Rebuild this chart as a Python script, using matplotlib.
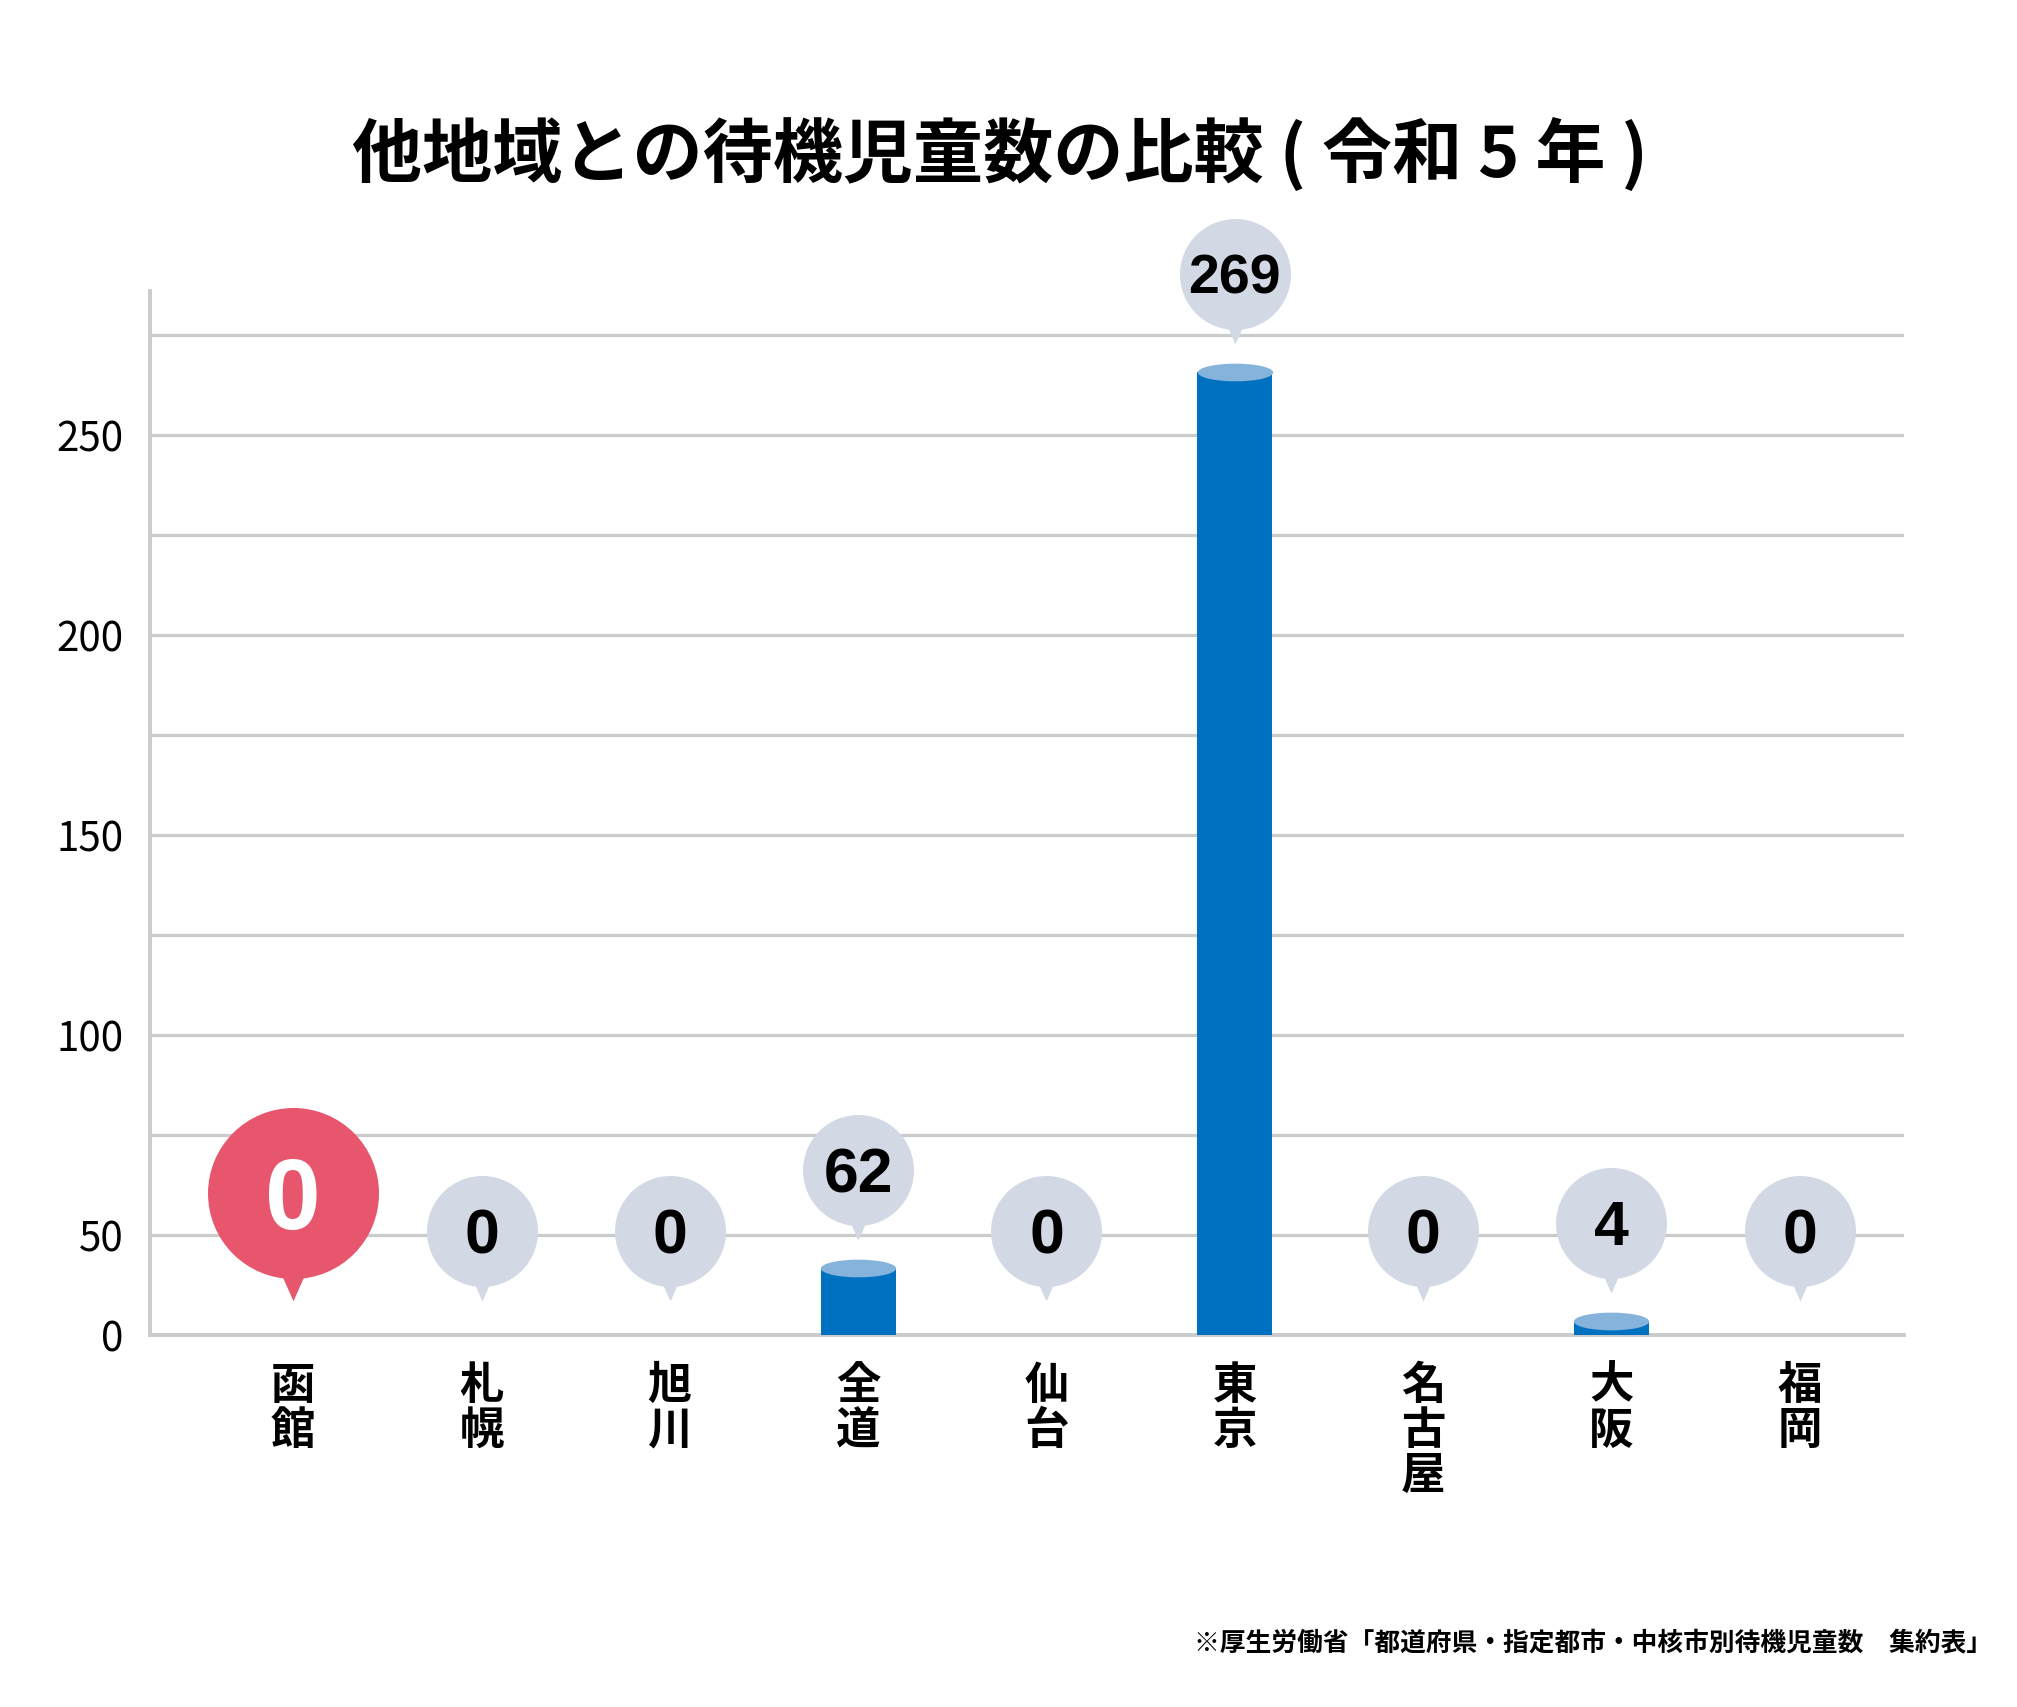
import numpy as np
import matplotlib
matplotlib.use("Agg")
import matplotlib.pyplot as plt
from matplotlib.path import Path
from matplotlib.transforms import ScaledTranslation

plt.rcParams['font.family'] = ['Noto Sans CJK JP', 'DejaVu Sans']

# ---------------- data ----------------
categories = ["函館", "札幌", "旭川", "全道", "仙台", "東京", "名古屋", "大阪", "福岡"]
waiting_children = [0, 0, 0, 62, 0, 269, 0, 4, 0]
highlight = "函館"
title = "他地域との待機児童数の比較 ( 令和 5 年 )"
source_note = "※厚生労働省「都道府県・指定都市・中核市別待機児童数　集約表」"
tick_labels = ["0", "50", "100", "150", "200", "250"]
tick_levels = [0, 1, 3, 5, 7, 9]          # grid rows where the labels sit
# the infographic's own (non-linear) value scale: value -> grid row
scale_values = [0, 4, 62, 269, 320]
scale_levels = [0, 0.14, 0.666, 9.63, 11.87]

# ---------------- style ----------------
DPI = 100
W, H = 2017, 1707
BAR_COLOR = "#0070c0"
CAP_COLOR = "#86b3dc"
BUBBLE_COLOR = "#d2d9e5"
HILITE_COLOR = "#e8566d"
GRID_COLOR = "#cbcbcb"

fig = plt.figure(figsize=(W / DPI, H / DPI), dpi=DPI)
ax_l, ax_r, ax_b, ax_t = 150, 1904, 1335, 291
ax = fig.add_axes([ax_l / W, (H - ax_b) / H, (ax_r - ax_l) / W, (ax_b - ax_t) / H])


def fwd(v):
    return np.interp(v, scale_values, scale_levels)


def inv(l):
    return np.interp(l, scale_levels, scale_values)


ax.set_yscale("function", functions=(fwd, inv))
x = np.arange(len(categories))
ax.set_xlim(-0.761, 8.554)
ax.set_ylim(0, inv(10.44))

# grid lines
for lvl in range(1, 11):
    ax.axhline(inv(lvl), color=GRID_COLOR, lw=2.3, zorder=0)

for s in ["top", "right"]:
    ax.spines[s].set_visible(False)
for s in ["left", "bottom"]:
    ax.spines[s].set_color(GRID_COLOR)
    ax.spines[s].set_linewidth(2.8)
    ax.spines[s].set_zorder(1)

ax.set_yticks([inv(l) for l in tick_levels])
ax.set_yticklabels(tick_labels, fontsize=29)
ax.tick_params(axis="y", length=0, pad=19)
ax.set_xticks([])
ax.yaxis.set_minor_locator(matplotlib.ticker.NullLocator())

# bars
bar_w = 0.40
ax.bar(x, waiting_children, width=bar_w, color=BAR_COLOR, zorder=2)

# cylinder caps (ellipse markers)
px_per_x = (ax_r - ax_l) / (8.554 + 0.761)
cap_w_pt = bar_w * px_per_x * 72 / DPI
ell = Path.unit_circle()
ell = Path(ell.vertices * np.array([1.0, 0.235]), ell.codes)
for xi, v in zip(x, waiting_children):
    if v > 0:
        ax.plot(xi, v, marker=ell, ms=cap_w_pt, color=CAP_COLOR, mec="none",
                zorder=3, clip_on=False)

# bubbles
def tail_marker():
    verts = [(-0.16, -0.9), (0.16, -0.9), (0.0, -1.26), (-0.16, -0.9)]
    return Path(verts, [Path.MOVETO, Path.LINETO, Path.LINETO, Path.CLOSEPOLY])

tail = tail_marker()
gap_px = 28
for xi, v, name in zip(x, waiting_children, categories):
    big = name == highlight
    r_px = 85.5 if big else 55.5
    color = HILITE_COLOR if big else BUBBLE_COLOR
    center_px = (34 if v == 0 else gap_px) + 1.26 * r_px
    off = ScaledTranslation(0, center_px / DPI, fig.dpi_scale_trans)
    tr = ax.transData + off
    d_pt = 2 * r_px * 72 / DPI
    ax.plot(xi, v, marker="o", ms=d_pt, color=color, mec="none",
            transform=tr, clip_on=False, zorder=4)
    ax.plot(xi, v, marker=tail, ms=d_pt * 1.26, color=color, mec="none",
            transform=tr, clip_on=False, zorder=4)
    label = str(v)
    if big:
        fs, fc = 72, "white"
    else:
        fs, fc = (45 if len(label) < 3 else 40), "black"
    # baseline placed so the digits' ink is centred in the circle
    tr_txt = tr + ScaledTranslation(0, -0.358 * fs / 72, fig.dpi_scale_trans)
    ax.text(xi, v, label, transform=tr_txt, ha="center", va="baseline",
            fontsize=fs, fontweight="bold", color=fc, zorder=5,
            family=["Liberation Sans", "DejaVu Sans"])

# category labels (vertical stacking)
for xi, name in zip(x, categories):
    ax.annotate("\n".join(name), xy=(xi, 0), xycoords="data",
                xytext=(0, -20), textcoords="offset points",
                ha="center", va="top", fontsize=32, fontweight="bold",
                linespacing=0.98, annotation_clip=False)

fig.text(1000 / W, 1 - 155 / H, title, ha="center", va="center",
         fontsize=50.5, fontweight="bold")
fig.text(1992 / W, 1 - 1643 / H, source_note, ha="right", va="center",
         fontsize=18.5, fontweight="bold")

fig.savefig("out.png", dpi=DPI)
